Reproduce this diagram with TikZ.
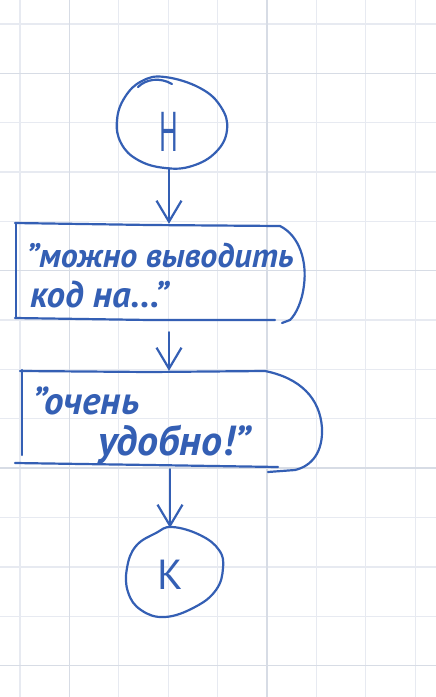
\documentclass[tikz,border=0pt]{standalone}
\usepackage{fontspec}
\setmainfont{PT Sans}
\usetikzlibrary{arrows.meta,shapes.geometric}
\definecolor{ink}{HTML}{345FB4}
\definecolor{gridl}{HTML}{E7EAF1}
\definecolor{gridd}{HTML}{D7DCE5}
\begin{document}
\begin{tikzpicture}[x=1pt,y=-1pt,
  pen/.style={draw=ink, line width=2.2pt, line cap=round, line join=round},
  arr/.style={pen, -{Straight Barb[length=21pt,width=25pt,line width=2.2pt]}},
  anchorbox/.style={draw=none, rectangle, inner sep=0pt},
  termnode/.style={draw=none, ellipse, inner sep=0pt, text=ink},
  hand/.style={text=ink, inner sep=0pt, anchor=base west,
    font=\bfseries\itshape\fontsize{#1}{#1}\selectfont},
  hand/.default=33,
]
\fill[white] (0,0) rectangle (436,697);
\useasboundingbox (0,0) rectangle (436,697);
% grid
\foreach \k in {0,...,8} \draw[gridl, line width=1.3pt] ({20+49.4*\k},0) -- ({20+49.4*\k},697);
\foreach \k in {0,...,13} \draw[gridl, line width=1.3pt] (0,{24+49.35*\k}) -- (436,{24+49.35*\k});
\foreach \k in {1,5} \draw[gridd, line width=1.4pt] ({20+49.4*\k},0) -- ({20+49.4*\k},697);
\foreach \k in {1,5,9,13} \draw[gridd, line width=1.4pt] (0,{24+49.35*\k}) -- (436,{24+49.35*\k});

% nodes
\node[termnode, minimum width=110pt, minimum height=72pt] (start) at (169,132)
  {\scalebox{0.5}[1]{\fontsize{56}{56}\selectfont Н}};
\node[anchorbox, minimum width=290pt, minimum height=96pt] (b1) at (160,272) {};
\node[anchorbox, minimum width=305pt, minimum height=98pt] (b2) at (170,420) {};
\node[termnode, minimum width=96pt, minimum height=94pt] (endn) at (170,575)
  {\fontsize{42}{42}\selectfont К};

% texts
\node[hand=34] (t1a) at (26,267) {"можно выводить};
\node[hand=37] (t1b) at (30,307) {код на..."};
\node[hand=39] (t2a) at (32,414) {"очень};
\node[hand=42] (t2b) at (98,455) {удобно!"};

% hand-drawn outlines
\draw[pen] plot[smooth cycle, tension=0.7] coordinates {(165,77) (200,88) (221,107) (227,130) (216,152) (192,166) (165,168) (138,160) (121,143) (117,120) (125,97) (142,81)};
\draw[pen] (138,87) .. controls (146,79) and (160,77) .. (172,84);

\draw[pen] (16,223) -- (16,318);
\draw[pen] (15,223) -- (150,225) -- (280,226)
  .. controls (300,236) and (307,262) .. (304,285)
  .. controls (302,302) and (296,314) .. (290,320) -- (282,323);
\draw[pen] (15,318) -- (150,320) -- (275,320);

\draw[pen] (22,370) -- (22,455);
\draw[pen] (20,371) -- (150,372) -- (265,371)
  .. controls (300,378) and (320,398) .. (322,428)
  .. controls (323,452) and (312,466) .. (295,470) -- (268,472);
\draw[pen] (15,463) -- (150,465) -- (278,467);

\draw[pen] plot[smooth cycle, tension=0.7] coordinates {(172,527) (200,535) (219,550) (223,568) (216,590) (195,607) (165,617) (141,610) (128,592) (127,568) (136,546) (156,533)};

% connectors
\draw[arr] (start.south) -- (start.south |- b1.north);
\draw[arr, shorten <=12pt] (b1.south -| start) -- (b2.north -| start);
\draw[arr] (b2.south -| endn) -- (endn.north);
\end{tikzpicture}
\end{document}
